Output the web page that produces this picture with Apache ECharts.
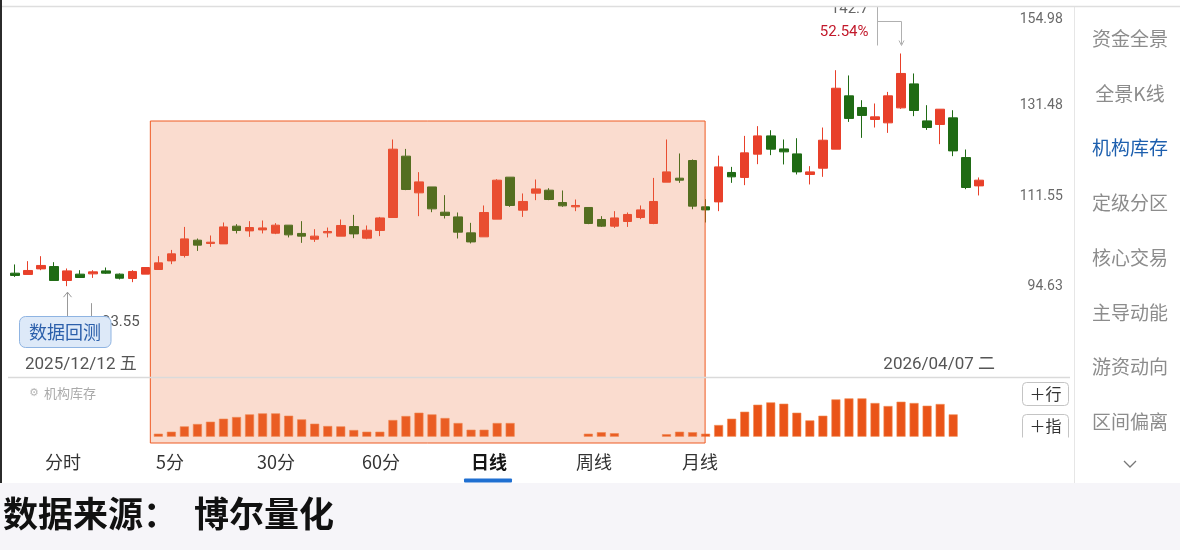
<!DOCTYPE html>
<html><head><meta charset="utf-8">
<script src="https://cdn.jsdelivr.net/npm/echarts@6/dist/echarts.min.js"></script>
<style>html,body{margin:0;padding:0;background:#fff;overflow:hidden}#c{width:1180px;height:550px}</style>
</head><body><div id="c"></div><script>
// ---------- data ----------
const dates = ['2025/12/11','2025/12/12','2025/12/15','2025/12/16','2025/12/17','2025/12/18','2025/12/19','2025/12/22','2025/12/23','2025/12/24','2025/12/25','2025/12/26','2025/12/29','2025/12/30','2025/12/31',
'2026/01/05','2026/01/06','2026/01/07','2026/01/08','2026/01/09','2026/01/12','2026/01/13','2026/01/14','2026/01/15','2026/01/16','2026/01/19','2026/01/20','2026/01/21','2026/01/22','2026/01/23',
'2026/01/26','2026/01/27','2026/01/28','2026/01/29','2026/01/30','2026/02/02','2026/02/03','2026/02/04','2026/02/05','2026/02/06','2026/02/09','2026/02/10','2026/02/11','2026/02/12','2026/02/13',
'2026/02/24','2026/02/25','2026/02/26','2026/02/27','2026/03/02','2026/03/03','2026/03/04','2026/03/05','2026/03/06','2026/03/09','2026/03/10','2026/03/11','2026/03/12','2026/03/13',
'2026/03/16','2026/03/17','2026/03/18','2026/03/19','2026/03/20','2026/03/23','2026/03/24','2026/03/25','2026/03/26','2026/03/27','2026/03/30','2026/03/31','2026/04/01','2026/04/02','2026/04/03','2026/04/07'];
const openP  = [95.78,95.56,96.53,96.94,94.52,95.61,95.66,96.18,95.61,94.86,95.61,96.42,97.94,98.91,101.69,101.09,101.01,104.31,103.42,103.61,102.99,104.50,102.94,101.87,103.05,102.44,104.24,102.06,103.50,105.96,118.44,110.81,112.01,106.99,106.08,103.05,102.31,105.65,114.01,107.38,110.75,111.35,108.89,108.03,107.91,105.58,104.31,105.20,105.96,104.82,112.98,113.80,117.51,108.03,109.01,114.99,113.95,118.87,122.88,120.01,118.93,114.57,115.88,119.95,132.14,129.38,126.59,125.82,129.29,135.04,126.27,125.45,126.97,118.14,112.22];
const closeP = [95.38,96.25,97.13,94.52,96.18,95.03,96.01,95.78,94.91,96.08,96.77,97.59,99.20,101.93,100.78,101.32,104.17,103.50,104.05,103.98,104.50,102.68,102.44,102.44,103.31,104.44,102.86,103.55,105.88,119.95,111.49,113.04,107.64,106.36,103.18,101.37,106.93,113.39,108.30,109.09,111.61,109.48,108.23,108.30,104.82,104.31,105.88,106.55,107.44,109.09,115.11,113.39,108.17,107.44,116.16,114.08,119.15,122.88,119.95,119.37,115.11,115.11,121.92,133.98,126.83,127.52,127.20,132.14,137.62,128.67,124.76,128.98,119.58,111.89,113.39];
const lowP   = [95.13,95.56,96.30,94.52,93.55,95.03,94.96,95.66,94.69,94.23,95.61,96.42,97.36,98.54,99.73,100.46,101.01,102.94,102.31,102.94,102.81,102.20,101.20,101.37,102.20,102.44,102.06,101.87,102.44,105.96,111.35,106.22,106.99,105.77,102.00,101.09,102.31,105.65,108.03,106.08,109.35,109.35,108.03,107.19,104.69,104.17,103.98,104.17,105.65,104.69,112.98,112.84,107.57,105.01,107.19,112.84,112.37,116.73,118.66,116.67,114.57,112.51,114.08,119.95,126.04,122.44,124.76,123.55,129.06,127.36,124.22,121.05,118.44,111.55,110.29];
const highP  = [97.31,97.89,98.78,97.71,96.60,96.30,96.30,96.77,95.73,96.30,96.77,98.78,99.91,104.17,102.00,102.56,105.01,104.69,105.26,105.39,104.88,104.50,105.26,103.74,104.05,105.58,106.47,104.44,106.08,122.08,120.01,115.05,112.01,110.35,106.93,104.94,108.30,113.59,114.01,110.69,113.53,111.75,111.29,109.48,107.91,106.22,107.19,106.93,108.30,113.86,122.08,119.02,117.73,109.55,118.55,116.16,122.88,125.07,124.15,122.08,122.36,116.31,124.76,138.44,137.12,131.10,130.32,133.09,142.70,137.62,129.92,128.98,128.74,119.88,113.95];
// 机构库存 indicator (null = no bar)
const inventory = [null,null,null,null,null,null,null,null,null,null,null,
  3,5,10.3,12.7,15,18,19.7,22.3,23.3,23.3,21,17.3,13,10.7,10.3,6.7,5,5,16.7,20.7,24,22.3,18.7,13.7,7,7,13.7,13.7,
  null,null,null,null,null,3,4.5,3.5,null,null,null,2.5,5,4.5,3,
  11.7,18,25,32,34.3,33,24,16.3,21,37.3,38.3,38.3,33.7,30.7,35,33.7,31,32.7,22.3,null,null];
const priceTicks = [94.63, 111.55, 131.48, 154.98];
const tabs = ['分时','5分','30分','60分','日线','周线','月线'];
const sideItems = ['资金全景','全景K线','机构库存','定级分区','核心交易','主导动能','游资动向','区间偏离'];
const startLabel = '2025/12/12 五', endLabel = '2026/04/07 二';
const selStart = 11, selEnd = 53;

// ---------- chart ----------
const CJK = '"Noto Sans CJK SC", "Noto Sans", sans-serif';
const NUM = 'Roboto, "Noto Sans CJK SC", sans-serif';
const RED = '#e8402a', GREEN = '#1f6b14';
const chart = echarts.init(document.getElementById('c'));
const kData = dates.map((d, i) => [Math.log(openP[i]), Math.log(closeP[i]), Math.log(lowP[i]), Math.log(highP[i])]);
const yMax = Math.log(priceTicks[priceTicks.length - 1]);

chart.setOption({
  animation: false,
  backgroundColor: '#ffffff',
  grid: [
    {left: 8.5, width: 977.25, top: 8, height: 363},
    {left: 8.5, width: 977.25, top: 396.7, height: 40}
  ],
  xAxis: [
    {type: 'category', data: dates, gridIndex: 0, show: false},
    {type: 'category', data: dates, gridIndex: 1, show: false}
  ],
  yAxis: [
    {type: 'value', gridIndex: 0, position: 'right', min: Math.log(80.2), max: yMax,
     splitLine: {show: false}, axisLine: {show: false}, axisTick: {show: false},
     axisLabel: {customValues: priceTicks.map(v => Math.log(v)),
       formatter: v => { const s = Math.exp(v).toFixed(2); return v >= yMax - 1e-9 ? '{t|' + s + '}' : s; },
       rich: {t: {padding: [5, 0, 0, 0], fontSize: 14, color: '#6a6a6a', fontFamily: NUM}},
       align: 'right', margin: 77, verticalAlign: 'top', color: '#6a6a6a', fontSize: 14, fontFamily: NUM}},
    {type: 'value', gridIndex: 1, min: 0, max: 40, show: false}
  ],
  series: [
    {type: 'candlestick', xAxisIndex: 0, yAxisIndex: 0, data: kData, barWidth: 9,
     itemStyle: {color: RED, color0: GREEN, borderColor: RED, borderColor0: GREEN, borderWidth: 1}},
    {type: 'bar', xAxisIndex: 1, yAxisIndex: 1, data: inventory, barWidth: 9,
     itemStyle: {color: '#ea5418', borderColor: '#f08d55', borderWidth: 0.6}}
  ]
});

// ---------- overlays ----------
function T(text, x, y, size, color, align, opts) {
  opts = opts || {};
  return {type: 'text', z: opts.z || 50, style: {text: text, x: x, y: y, fill: color,
    fontSize: size, fontFamily: opts.font || CJK, fontWeight: opts.weight || 'normal',
    align: align, textAlign: align, verticalAlign: 'middle', textVerticalAlign: 'middle'}};
}
function L(x1, y1, x2, y2, color, w, z) {
  return {type: 'line', z: z || 50, shape: {x1: x1, y1: y1, x2: x2, y2: y2}, style: {stroke: color, lineWidth: w || 1}};
}
const g = [];
const pHigh = Math.max(...highP), pLow = Math.min(...lowP);
const iHigh = highP.indexOf(pHigh), iLow = lowP.indexOf(pLow);
const [hx, hy] = chart.convertToPixel({gridIndex: 0}, [iHigh, Math.log(pHigh)]);
const [lx, ly] = chart.convertToPixel({gridIndex: 0}, [iLow, Math.log(pLow)]);
const pct = ((pHigh - pLow) / pLow * 100).toFixed(2) + '%';

// high marker
const hxa = Math.round(hx) + 0.5, hxb = hxa - 24;
g.push(L(hxa, hy - 32, hxa, hy - 9, '#b0b0b0'));
g.push(L(hxb, hy - 32, hxa, hy - 32, '#b0b0b0'));
g.push(L(hxb, hy - 47, hxb, hy - 8, '#b0b0b0'));
g.push({type: 'polyline', z: 50, shape: {points: [[hxa - 2.5, hy - 13], [hxa, hy - 8], [hxa + 2.5, hy - 13]]}, style: {stroke: '#b0b0b0', lineWidth: 1, fill: null}});
g.push(T(String(pHigh), hxb - 9, hy - 44, 15, '#666', 'right', {font: NUM}));
g.push(T(pct, hxb - 9, hy - 21, 15, '#c2192b', 'right', {font: NUM}));

// low marker
const lxa = Math.round(lx) + 0.5, lxb = lxa + 24;
g.push(L(lxa, ly + 6, lxa, ly + 36, '#999'));
g.push(L(lxa, ly + 36, lxb, ly + 36, '#999'));
g.push(L(lxb, ly + 17, lxb, ly + 52, '#999'));
g.push({type: 'polyline', z: 50, shape: {points: [[lxa - 4, ly + 11], [lxa, ly + 6], [lxa + 4, ly + 11]]}, style: {stroke: '#999', lineWidth: 1, fill: null}});
g.push(T(pLow.toFixed(2), lxb + 10.5, ly + 36, 15, '#555', 'left', {font: NUM}));
// 数据回测 button
g.push({type: 'rect', z: 60, shape: {x: 19.5, y: 316.5, width: 91.5, height: 31, r: 6}, style: {fill: '#dde9f8', stroke: '#8fb4e2', lineWidth: 1}});
g.push(T('数据回测', 65, 332, 18, '#2b5fab', 'center', {z: 61}));

// date labels
g.push(T(startLabel, 25, 365, 17, '#555', 'left', {font: NUM}));
g.push(T(endLabel, 995, 365, 17, '#555', 'right', {font: NUM}));

// volume panel header
g.push(L(8, 377.5, 1070, 377.5, '#dadada', 1.5));
g.push(T('⚙', 34, 393, 11, '#b5b5b5', 'center', {font: '"DejaVu Sans", sans-serif'}));
g.push(T('机构库存', 44, 393, 13, '#aaaaaa', 'left'));
g.push({type: 'rect', z: 50, shape: {x: 1022.5, y: 382.5, width: 46, height: 23, r: 4}, style: {fill: '#fff', stroke: '#c4c4c4', lineWidth: 1}});
g.push(T('＋行', 1045.5, 394, 16, '#333', 'center'));
g.push({type: 'rect', z: 50, shape: {x: 1022.5, y: 414.5, width: 46, height: 30, r: 4}, style: {fill: '#fff', stroke: '#c4c4c4', lineWidth: 1}});
g.push(T('＋指', 1045.5, 426, 16, '#333', 'center'));
g.push({type: 'rect', z: 52, shape: {x: 1015, y: 437.5, width: 58, height: 10}, style: {fill: '#fff'}});

// selection (data backtest) area
const xs0 = chart.convertToPixel({xAxisIndex: 0}, selStart - 1), xs1 = chart.convertToPixel({xAxisIndex: 0}, selStart);
const xe = chart.convertToPixel({xAxisIndex: 0}, selEnd);
const sx = (xs0 + xs1) / 2 - 1.5;
g.push({type: 'rect', z: 40, shape: {x: sx, y: 121, width: xe - 0.5 - sx, height: 322}, style: {fill: 'rgba(236,120,70,0.26)', stroke: '#ee5a22', lineWidth: 1}});

// tabs
const tabX = [63, 170, 276, 381, 489, 594, 700];
tabs.forEach((t, i) => {
  const act = t === '日线';
  g.push(T(t, tabX[i], 462, 18, act ? '#151515' : '#333', 'center', {weight: act ? 'bold' : 'normal'}));
});
g.push({type: 'rect', z: 50, shape: {x: 464, y: 478.5, width: 48, height: 4, r: 1}, style: {fill: '#1f6fd1'}});

// sidebar
g.push(L(1074.5, 7, 1074.5, 483, '#e6e6e6'));
const sideY = [39, 94, 148, 203, 257.5, 312.5, 367, 421.5];
sideItems.forEach((t, i) => {
  g.push(T(t, 1130, sideY[i], 19, t === '机构库存' ? '#1d5fae' : '#8c8c8c', 'center'));
});
g.push({type: 'polyline', z: 50, shape: {points: [[1124, 461], [1130, 467], [1136, 461]]}, style: {stroke: '#777', lineWidth: 1.3, fill: null}});

// top strip and borders
g.push({type: 'rect', z: 70, shape: {x: 0, y: 0, width: 1180, height: 6}, style: {fill: '#fff'}});
g.push(L(0, 6.5, 1180, 6.5, '#dedede', 1.5, 71));
g.push(L(1, 0, 1, 483, '#2b2b2b', 2, 71));

// footer
g.push({type: 'rect', z: 80, shape: {x: 0, y: 483, width: 1180, height: 67}, style: {fill: '#f6f5f9'}});
g.push(T('数据来源：  博尔量化', 3, 514, 35, '#111', 'left', {weight: 'bold', z: 81}));

chart.setOption({graphic: {elements: g}});
</script></body></html>
